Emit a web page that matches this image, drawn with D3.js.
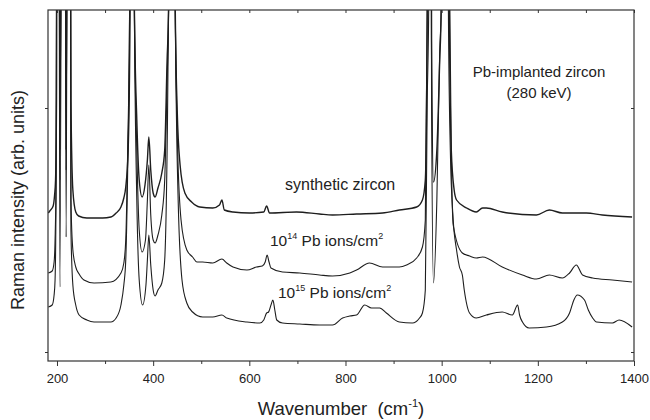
<!DOCTYPE html>
<html>
<head>
<meta charset="utf-8">
<script src="https://cdn.jsdelivr.net/npm/d3@7.9.0/dist/d3.min.js"></script>
<style>
  body { margin: 0; background: #fff; }
  svg { font-family: "Liberation Sans", Arial, sans-serif; }
  .trace { fill: none; stroke: #1e1e1e; stroke-linejoin: round; }
</style>
</head>
<body>
<svg id="chart" width="650" height="420"></svg>
<script>
// wavenumber (cm-1), intensity (arb. units, values past 342 run off the top)
const synthetic = [
  [182,139],[185,141],[192,146],[195,157],[197,172],[199,252],[202,1200],[206,202],[214,1200],[219,202],
  [225,1200],[229,252],[233,162],[239,140],[245,136],[262,134],[277,134],[295,134],[312,135],[323,139],
  [333,145],[339,154],[343,165],[348,202],[352,342],[356,1500],[361,342],[366,232],[371,172],[377,155],
  [383,167],[388,192],[391,215],[395,182],[400,159],[404,155],[410,164],[418,179],[424,202],[429,292],
  [432,342],[439,1500],[446,342],[450,242],[456,187],[466,159],[480,150],[497,145],[524,144],[538,147],
  [543,152],[548,142],[566,140],[600,139],[630,140],[636,146],[642,139],[698,140],[746,138],[773,137],
  [823,138],[877,139],[912,142],[948,145],[960,152],[966,172],[970,342],[974,1500],[979,312],[983,170],
  [990,202],[996,292],[999,342],[1008,1500],[1016,342],[1020,202],[1026,162],[1031,152],[1052,144],
  [1072,140],[1085,144],[1093,144],[1126,140],[1197,137],[1224,142],[1251,139],[1301,139],[1334,137],
  [1396,135]
];
const dose14 = [
  [182,79],[190,81],[194,90],[196,112],[198,172],[202,1200],[206,65],[214,1200],[219,115],[225,1200],
  [229,152],[233,102],[239,85],[246,78],[256,72],[277,69],[312,70],[333,79],[339,89],[343,112],
  [347,202],[351,342],[356,1500],[361,342],[366,202],[371,122],[377,100],[384,112],[388,152],[391,187],
  [395,137],[400,112],[404,109],[410,117],[418,137],[424,172],[429,272],[432,342],[439,1500],[446,342],
  [451,202],[458,132],[470,102],[482,95],[491,90],[503,90],[524,89],[543,93],[553,89],[566,85],
  [595,82],[615,85],[627,86],[633,90],[637,97],[641,90],[645,84],[669,80],[705,79],[746,77],
  [773,76],[809,79],[823,82],[850,89],[877,85],[912,85],[927,87],[948,94],[960,105],[966,132],
  [970,342],[974,1500],[979,252],[983,69],[990,152],[996,302],[999,342],[1008,1500],[1017,342],[1020,202],
  [1024,127],[1043,99],[1058,96],[1072,94],[1085,95],[1126,85],[1168,77],[1197,73],[1224,77],[1251,74],
  [1266,79],[1280,87],[1293,77],[1314,74],[1355,72],[1396,70]
];
const dose15 = [
  [182,45],[190,47],[194,57],[196,72],[198,152],[202,1200],[206,172],[214,1200],[219,182],[225,1200],
  [229,122],[233,67],[239,47],[246,37],[262,32],[277,30],[312,30],[323,34],[333,47],[339,67],
  [343,92],[347,182],[351,342],[356,1500],[361,342],[366,152],[371,72],[378,47],[385,67],[388,92],
  [391,117],[395,87],[400,62],[404,56],[410,62],[418,69],[424,92],[429,202],[432,342],[439,1500],
  [446,342],[452,152],[460,72],[470,49],[482,40],[503,35],[524,35],[543,37],[553,34],[595,30],
  [622,29],[630,32],[636,39],[640,40],[645,47],[649,52],[653,42],[657,32],[669,29],[705,28],
  [746,27],[773,27],[794,34],[809,36],[823,37],[840,47],[854,44],[871,44],[885,39],[912,30],
  [939,29],[954,34],[960,39],[966,62],[970,252],[973,342],[974,1500],[990,600],[1008,1500],[1014,342],
  [1018,202],[1024,132],[1031,102],[1037,85],[1043,77],[1047,62],[1058,39],[1072,34],[1093,37],[1126,40],
  [1147,37],[1158,47],[1162,37],[1168,30],[1182,24],[1218,25],[1251,30],[1266,39],[1275,52],[1282,57],
  [1297,52],[1305,42],[1314,34],[1322,30],[1355,29],[1369,32],[1396,25]
];

const xMajor = [200, 400, 600, 800, 1000, 1200, 1400];
const xMinor = [300, 500, 700, 900, 1100, 1300];
const yTicks = [0, 244];

const svg = d3.select('#chart');
const m = { left: 48, right: 634, top: 10, bottom: 361 };

const x = d3.scaleLinear().domain([181.3, 1400]).range([m.left, m.right]);
const y = d3.scaleLinear().domain([-9, 342]).range([m.bottom, m.top]);

svg.append('clipPath').attr('id', 'plot')
  .append('rect').attr('x', m.left).attr('y', m.top)
  .attr('width', m.right - m.left).attr('height', m.bottom - m.top);

const line = d3.line()
  .x((d) => x(d[0]))
  .y((d) => y(d[1]))
  .curve(d3.curveMonotoneX);

const traces = svg.append('g').attr('clip-path', 'url(#plot)');
[[synthetic, 1.4], [dose14, 1.1], [dose15, 1.1]].forEach(([data, w]) => {
  traces.append('path').attr('class', 'trace').attr('stroke-width', w).attr('d', line(data));
});

// axes: bottom with labels, others just ticks
const ax = '#333';
const bottomAxis = svg.append('g').attr('transform', `translate(0,${m.bottom})`)
  .call(d3.axisBottom(x).tickValues(xMajor).tickSize(5).tickPadding(8).tickFormat(d3.format('d')));
bottomAxis.append('g')
  .call(d3.axisBottom(x).tickValues(xMinor).tickSize(3).tickFormat(''));
bottomAxis.selectAll('.domain').remove();
bottomAxis.selectAll('line').attr('stroke', ax);
bottomAxis.selectAll('text').attr('font-size', 13).attr('fill', '#222')
  .attr('font-family', '"Liberation Sans", Arial, sans-serif');

const topAxis = svg.append('g').attr('transform', `translate(0,${m.top})`)
  .call(d3.axisTop(x).tickValues(xMajor.concat(xMinor)).tickSize(-3).tickFormat(''));
topAxis.selectAll('.domain').remove();
topAxis.selectAll('line').attr('stroke', ax);

const leftAxis = svg.append('g').attr('transform', `translate(${m.left},0)`)
  .call(d3.axisLeft(y).tickValues(yTicks).tickSize(3).tickFormat(''));
leftAxis.selectAll('.domain').remove();
leftAxis.selectAll('line').attr('stroke', ax);

const rightAxis = svg.append('g').attr('transform', `translate(${m.right},0)`)
  .call(d3.axisRight(y).tickValues(yTicks).tickSize(-3).tickFormat(''));
rightAxis.selectAll('.domain').remove();
rightAxis.selectAll('line').attr('stroke', ax);

svg.append('rect')
  .attr('x', m.left).attr('y', m.top)
  .attr('width', m.right - m.left).attr('height', m.bottom - m.top)
  .attr('fill', 'none').attr('stroke', ax).attr('stroke-width', 1.2);

// axis titles
svg.append('text')
  .attr('x', 341).attr('y', 415)
  .attr('text-anchor', 'middle').attr('font-size', 18.5).attr('fill', '#222')
  .html('Wavenumber&#160;&#160;(cm<tspan dy="-8" font-size="11">-1</tspan><tspan dy="8">)</tspan>');

svg.append('text')
  .attr('transform', 'translate(24,200) rotate(-90)')
  .attr('text-anchor', 'middle').attr('font-size', 18).attr('fill', '#222')
  .text('Raman intensity (arb. units)');

// annotations
svg.append('text').attr('x', 539).attr('y', 77)
  .attr('text-anchor', 'middle').attr('font-size', 15).attr('fill', '#222')
  .text('Pb-implanted zircon');
svg.append('text').attr('x', 539).attr('y', 98)
  .attr('text-anchor', 'middle').attr('font-size', 15).attr('fill', '#222')
  .text('(280 keV)');

svg.append('text').attr('x', 285).attr('y', 190)
  .attr('font-size', 16).attr('fill', '#222')
  .text('synthetic zircon');

const doseLabel = (xPos, yPos, exp) => {
  svg.append('text').attr('x', xPos).attr('y', yPos)
    .attr('font-size', 15.5).attr('fill', '#222')
    .html(`10<tspan dy="-7" font-size="9">${exp}</tspan><tspan dy="7"> Pb ions/cm</tspan><tspan dy="-7" font-size="9">2</tspan>`);
};
doseLabel(270, 246, 14);
doseLabel(278, 298, 15);
</script>
</body>
</html>
